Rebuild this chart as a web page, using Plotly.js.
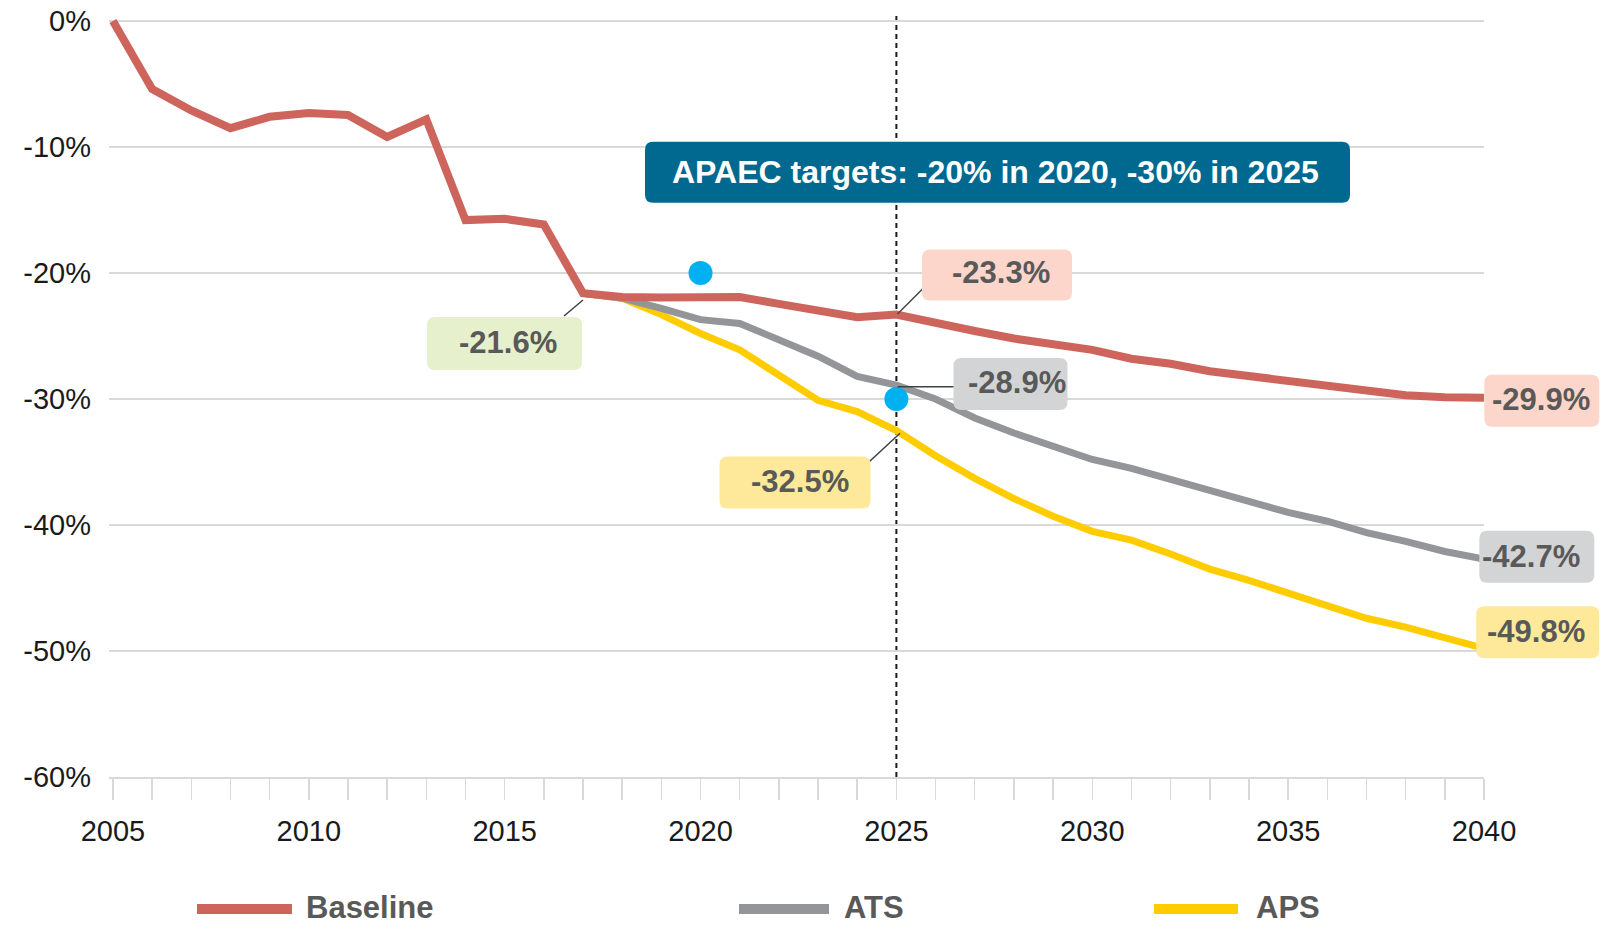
<!DOCTYPE html>
<html><head><meta charset="utf-8">
<script src="https://cdn.plot.ly/plotly-3.0.1.min.js"></script>
<style>html,body{margin:0;padding:0;background:#fff}#chart{width:1613px;height:929px}</style>
</head><body><div id="chart"></div>
<script>
// ---------- DATA ----------
const years = [2005,2006,2007,2008,2009,2010,2011,2012,2013,2014,2015,2016,2017,2018,2019,2020,2021,2022,2023,2024,2025,2026,2027,2028,2029,2030,2031,2032,2033,2034,2035,2036,2037,2038,2039,2040];
const baseline = [0,-5.4,-7.1,-8.5,-7.6,-7.3,-7.45,-9.2,-7.8,-15.8,-15.7,-16.15,-21.6,-21.9,-21.95,-21.9,-21.9,-22.45,-23.0,-23.5,-23.3,-24.0,-24.6,-25.2,-25.6,-26.1,-26.8,-27.2,-27.8,-28.2,-28.6,-29.0,-29.35,-29.7,-29.85,-29.9];
const projYears = [2017,2018,2019,2020,2021,2022,2023,2024,2025,2026,2027,2028,2029,2030,2031,2032,2033,2034,2035,2036,2037,2038,2039,2040];
const ats = [-21.6,-22.0,-22.8,-23.7,-24.0,-25.3,-26.6,-28.2,-28.9,-30.0,-31.5,-32.7,-33.8,-34.8,-35.5,-36.4,-37.3,-38.1,-39.0,-39.7,-40.6,-41.3,-42.1,-42.7];
const aps = [-21.6,-22.0,-23.3,-24.8,-26.1,-28.1,-30.1,-31.0,-32.5,-34.5,-36.3,-37.9,-39.3,-40.5,-41.2,-42.3,-43.5,-44.4,-45.4,-46.5,-47.4,-48.1,-48.9,-49.8];
const seriesNames = ['Baseline','ATS','APS'];
const targetYears = [2020, 2025];
const targetValues = [-20, -30];
const targetText = 'APAEC targets: -20% in 2020, -30% in 2025';
const yTickVals = [0,-10,-20,-30,-40,-50,-60];
const yTickText = ['0%','-10%','-20%','-30%','-40%','-50%','-60%'];
const xTickVals = [2005,2010,2015,2020,2025,2030,2035,2040];

// ---------- STYLE / GEOMETRY ----------
const COLORS = {Baseline:'#cd655d', ATS:'#939598', APS:'#ffcc00'};
const FONT = 'Liberation Sans, Arial, sans-serif';
const L=109, R=1484, T=16, B=777;
const px = x => (x - L)/(R - L);
const py = y => (B - y)/(B - T);
const fmt = v => v.toFixed(1) + '%';
const valAt = (xs, ys, yr) => ys[xs.indexOf(yr)];

function rbox(cx, cy, w, h, fill){
  const r=8, a=w/2, b=h/2;
  return {type:'path', xref:'paper', yref:'paper', xsizemode:'pixel', ysizemode:'pixel',
    xanchor:px(cx), yanchor:py(cy),
    path:`M${-a+r},${-b} L${a-r},${-b} Q${a},${-b} ${a},${-b+r} L${a},${b-r} Q${a},${b} ${a-r},${b} L${-a+r},${b} Q${-a},${b} ${-a},${b-r} L${-a},${-b+r} Q${-a},${-b} ${-a+r},${-b} Z`,
    fillcolor:fill, line:{width:0}, layer:'above'};
}
function seg(x0,y0,x1,y1,color,width){
  return {type:'line', xref:'paper', yref:'paper', x0:px(x0), y0:py(y0), x1:px(x1), y1:py(y1),
    line:{color:color||'#404040', width:width||1.5}, layer:'above'};
}
function label(cx, cy, text, opts){
  return Object.assign({xref:'paper', yref:'paper', x:px(cx), y:py(cy), text:text, showarrow:false,
    xanchor:'center', yanchor:'middle', font:{family:FONT, size:31, color:'#595959', weight:'bold'}}, opts||{});
}

// callouts: [box cx, cy, w, h, fill, text cx, cy, value]
const callouts = [
  [504.5,343.5,155,53,'#e6f0cd',508,343, valAt(years,baseline,2017)],
  [997,275,150,51,'#fcd6cb',1001,273, valAt(years,baseline,2025)],
  [1010.5,384,114,52,'#d3d4d6',1017,382, valAt(projYears,ats,2025)],
  [795,482.5,151,52,'#fee99a',800,481, valAt(projYears,aps,2025)],
  [1541.8,400.8,115,52,'#fcd6cb',1541,400, valAt(years,baseline,2040)],
  [1536.8,556.7,115,52,'#d3d4d6',1531,556, valAt(projYears,ats,2040)],
  [1537.7,632.2,123,52,'#fee99a',1536,631, valAt(projYears,aps,2040)]
];

const shapes = [
  {type:'line', xref:'x', yref:'y', x0:2025, x1:2025, y0:-60, y1:0.45, line:{color:'#1a1a1a', width:2, dash:'5px,4px'}, layer:'below'},
  rbox(997.5,172.2,705,61,'#01698f'),
  seg(564,316,583,300),
  seg(897.5,314,922.5,289),
  seg(897.5,386.7,953.7,386.7),
  seg(865.7,465,900,433.3)
];
const annotations = [
  label(996,172,targetText,{font:{family:FONT,size:32,color:'#ffffff',weight:'bold'}})
];
callouts.forEach(c => { shapes.push(rbox(c[0],c[1],c[2],c[3],c[4])); annotations.push(label(c[5],c[6],fmt(c[7]))); });

// custom legend
const legendItems = [[197,292,304],[739,829,842],[1154,1238,1254]];
seriesNames.forEach((n,i) => {
  const it = legendItems[i];
  shapes.push(seg(it[0],909,it[1],909,COLORS[n],10));
  annotations.push(label(it[2],908,n,{xanchor:'left', font:{family:FONT,size:31,color:'#595959',weight:'bold'}}));
});

const traces = [
  {x:projYears, y:aps, name:'APS', type:'scatter', mode:'lines', line:{color:COLORS.APS, width:7}},
  {x:projYears, y:ats, name:'ATS', type:'scatter', mode:'lines', line:{color:COLORS.ATS, width:7}},
  {x:years, y:baseline, name:'Baseline', type:'scatter', mode:'lines', line:{color:COLORS.Baseline, width:8}},
  {x:targetYears, y:targetValues, name:'APAEC targets', type:'scatter', mode:'markers', marker:{color:'#00b0f0', size:24}, cliponaxis:false}
];

const layout = {
  width:1613, height:929,
  margin:{l:L, r:1613-R, t:T, b:929-B, pad:0},
  paper_bgcolor:'#ffffff', plot_bgcolor:'#ffffff',
  showlegend:false,
  font:{family:FONT, color:'#1a1a1a'},
  xaxis:{range:[2004.9,2040], tickvals:xTickVals, ticktext:xTickVals.map(String), ticks:'outside', ticklen:21, tickwidth:1.5, tickcolor:'#d9d9d9',
    minor:{dtick:1, tick0:2005, ticks:'outside', ticklen:21, tickwidth:1.5, tickcolor:'#d9d9d9', showgrid:false},
    showgrid:false, zeroline:false, showline:true, linecolor:'#d9d9d9', linewidth:2,
    tickfont:{family:FONT, size:29, color:'#1a1a1a'}, ticklabelstandoff:6},
  yaxis:{range:[-60,0.4], tickvals:yTickVals, ticktext:yTickText, ticks:'', showgrid:true, gridcolor:'#d9d9d9', gridwidth:1.5,
    zeroline:false, showline:false, tickfont:{family:FONT, size:29, color:'#1a1a1a'}, ticklabelstandoff:17},
  shapes:shapes,
  annotations:annotations
};

Plotly.newPlot('chart', traces, layout, {displayModeBar:false, staticPlot:true});
</script>
</body></html>
